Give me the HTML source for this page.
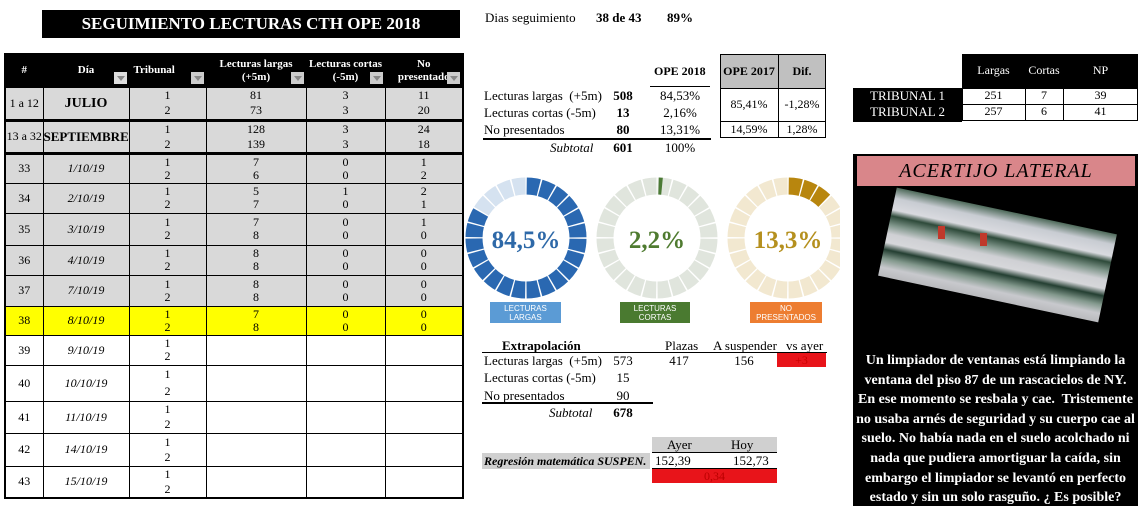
<!DOCTYPE html>
<html><head><meta charset="utf-8">
<style>
body{margin:0;width:1144px;height:506px;background:#fff;position:relative;overflow:hidden;font-family:"Liberation Serif",serif;color:#000}
.a{position:absolute;white-space:nowrap}
.c{text-align:center}
table.m{position:absolute;left:4px;top:53px;width:458px;border-collapse:collapse;table-layout:fixed;font-size:12px;border:2px solid #000}
table.m td{border:1px solid #000;text-align:center;padding:0;line-height:13px;background:#d9d9d9;overflow:hidden}
table.m tr.h td{background:#000;color:#fff;font-weight:bold;font-size:11px;line-height:13px;position:relative}
table.m tr.g td{border-bottom:3px solid #000}
table.m tr.y td{background:#ffff00}
table.m tr.w td{background:#fff}
table.m td.d{font-style:italic}
.dd{position:absolute;right:2px;bottom:3px;width:13px;height:12px;background:#ccc}
.dd:after{content:"";position:absolute;left:3px;top:4px;border-left:4px solid transparent;border-right:4px solid transparent;border-top:5px solid #888}
.lbl{position:absolute;color:#fff;font-family:"Liberation Sans",sans-serif;font-size:8px;line-height:9px;text-align:center;display:flex;align-items:center;justify-content:center}
.f13{font-size:13px}
</style></head><body>

<div class="a c" style="left:42px;top:10px;width:418px;height:28px;background:#000;color:#fff;font-weight:bold;font-size:17px;line-height:28px">SEGUIMIENTO LECTURAS CTH OPE 2018</div>
<div class="a f13" style="left:485px;top:10px">Dias seguimiento</div>
<div class="a f13" style="left:596px;top:10px;font-weight:bold">38 de 43</div>
<div class="a f13" style="left:667px;top:10px;font-weight:bold">89%</div>

<table class="m">
<colgroup><col style="width:38px"><col style="width:86px"><col style="width:77px"><col style="width:100px"><col style="width:79px"><col style="width:78px"></colgroup>
<tr class="h" style="height:33px"><td>#</td><td>Día<span class="dd" style="background:#ddd"></span></td><td style="text-align:left;padding-left:4px">Tribunal<span class="dd"></span></td><td>Lecturas largas<br>(+5m)<span class="dd"></span></td><td>Lecturas cortas<br>(-5m)<span class="dd"></span></td><td>No<br>presentado<span class="dd"></span></td></tr>
<tr class="g" style="height:33px"><td>1 a 12</td><td style="font-weight:bold;font-size:14px">JULIO</td><td style="line-height:15px">1<br>2</td><td style="line-height:15px">81<br>73</td><td style="line-height:15px">3<br>3</td><td style="line-height:15px">11<br>20</td></tr>
<tr class="g" style="height:33px"><td>13 a 32</td><td style="font-weight:bold;font-size:13px">SEPTIEMBRE</td><td style="line-height:15px">1<br>2</td><td style="line-height:15px">128<br>139</td><td style="line-height:15px">3<br>3</td><td style="line-height:15px">24<br>18</td></tr>
<tr style="height:30px"><td>33</td><td class="d">1/10/19</td><td>1<br>2</td><td>7<br>6</td><td>0<br>0</td><td>1<br>2</td></tr>
<tr style="height:30px"><td>34</td><td class="d">2/10/19</td><td>1<br>2</td><td>5<br>7</td><td>1<br>0</td><td>2<br>1</td></tr>
<tr style="height:32px"><td>35</td><td class="d">3/10/19</td><td>1<br>2</td><td>7<br>8</td><td>0<br>0</td><td>1<br>0</td></tr>
<tr style="height:30px"><td>36</td><td class="d">4/10/19</td><td>1<br>2</td><td>8<br>8</td><td>0<br>0</td><td>0<br>0</td></tr>
<tr style="height:31px"><td>37</td><td class="d">7/10/19</td><td>1<br>2</td><td>8<br>8</td><td>0<br>0</td><td>0<br>0</td></tr>
<tr class="y" style="height:29px"><td>38</td><td class="d">8/10/19</td><td>1<br>2</td><td>7<br>8</td><td>0<br>0</td><td>0<br>0</td></tr>
<tr class="w" style="height:30px"><td>39</td><td class="d">9/10/19</td><td>1<br>2</td><td></td><td></td><td></td></tr>
<tr class="w" style="height:36px"><td>40</td><td class="d">10/10/19</td><td style="line-height:17px">1<br>2</td><td></td><td></td><td></td></tr>
<tr class="w" style="height:32px"><td>41</td><td class="d">11/10/19</td><td style="line-height:15px">1<br>2</td><td></td><td></td><td></td></tr>
<tr class="w" style="height:33px"><td>42</td><td class="d">14/10/19</td><td style="line-height:15px">1<br>2</td><td></td><td></td><td></td></tr>
<tr class="w" style="height:32px"><td>43</td><td class="d">15/10/19</td><td style="line-height:15px">1<br>2</td><td></td><td></td><td></td></tr>
</table>

<!-- summary table -->
<div class="a" style="left:654px;top:64px;font-weight:bold;font-size:12px">OPE 2018</div>
<div class="a" style="left:650px;top:86px;width:60px;border-top:1px solid #000"></div>
<div class="a f13" style="left:484px;top:88px">Lecturas largas&nbsp; (+5m)</div>
<div class="a f13" style="left:484px;top:105px">Lecturas cortas (-5m)</div>
<div class="a f13" style="left:484px;top:122px">No presentados</div>
<div class="a f13 c" style="left:608px;top:88px;width:30px;font-weight:bold">508</div>
<div class="a f13 c" style="left:608px;top:105px;width:30px;font-weight:bold">13</div>
<div class="a f13 c" style="left:608px;top:122px;width:30px;font-weight:bold">80</div>
<div class="a f13 c" style="left:650px;top:88px;width:60px">84,53%</div>
<div class="a f13 c" style="left:650px;top:105px;width:60px">2,16%</div>
<div class="a f13 c" style="left:650px;top:122px;width:60px">13,31%</div>
<div class="a" style="left:483px;top:138px;width:228px;border-top:2px solid #000"></div>
<div class="a f13" style="left:550px;top:140px;font-style:italic">Subtotal</div>
<div class="a f13 c" style="left:608px;top:140px;width:30px;font-weight:bold">601</div>
<div class="a f13 c" style="left:650px;top:140px;width:60px">100%</div>

<div class="a" style="left:720px;top:54px;width:106px;height:84px;border:1px solid #000;box-sizing:border-box"></div>
<div class="a" style="left:721px;top:55px;width:104px;height:33px;background:#c0c0c0"></div>
<div class="a" style="left:720px;top:88px;width:106px;border-top:1px solid #000"></div>
<div class="a" style="left:720px;top:121px;width:106px;border-top:1px solid #000"></div>
<div class="a" style="left:778px;top:54px;height:84px;border-left:1px solid #000"></div>
<div class="a c" style="left:720px;top:64px;width:58px;font-weight:bold;font-size:12px">OPE 2017</div>
<div class="a c" style="left:778px;top:64px;width:48px;font-weight:bold;font-size:12px">Dif.</div>
<div class="a c" style="left:720px;top:97px;width:58px;font-size:12px">85,41%</div>
<div class="a c" style="left:778px;top:97px;width:48px;font-size:12px">-1,28%</div>
<div class="a c" style="left:720px;top:122px;width:58px;font-size:12px">14,59%</div>
<div class="a c" style="left:778px;top:122px;width:48px;font-size:12px">1,28%</div>

<!-- donuts -->
<svg class="a" style="left:460px;top:170px" width="380" height="140">
 <g transform="translate(66,68) rotate(-90)">
  <circle r="52" fill="none" stroke="#d5e2f0" stroke-width="17"/>
  <circle r="52" fill="none" stroke="#2a68b1" stroke-width="17" stroke-dasharray="272.3 400"/>
  <circle r="52" fill="none" stroke="#fff" stroke-width="18" stroke-dasharray="1.4 12.21" stroke-dashoffset="0.7"/>
 </g>
 <g transform="translate(197,68) rotate(-90)">
  <circle r="52" fill="none" stroke="#e0e5dd" stroke-width="17"/>
  <circle r="52" fill="none" stroke="#4b7a35" stroke-width="17" stroke-dasharray="0 1.6 3.5 400"/>
  <circle r="52" fill="none" stroke="#fff" stroke-width="18" stroke-dasharray="1.4 12.21" stroke-dashoffset="0.7"/>
 </g>
 <g transform="translate(328,68) rotate(-90)">
  <circle r="52" fill="none" stroke="#f2e8d0" stroke-width="17"/>
  <circle r="52" fill="none" stroke="#b8860e" stroke-width="17" stroke-dasharray="40.8 400"/>
  <circle r="52" fill="none" stroke="#fff" stroke-width="18" stroke-dasharray="1.4 12.21" stroke-dashoffset="0.7"/>
 </g>
 <text x="66" y="78" text-anchor="middle" font-family="Liberation Serif,serif" font-size="25" font-weight="bold" fill="#2e69a8">84,5%</text>
 <text x="197" y="78" text-anchor="middle" font-family="Liberation Serif,serif" font-size="25" font-weight="bold" fill="#4f7b30">2,2%</text>
 <text x="328" y="78" text-anchor="middle" font-family="Liberation Serif,serif" font-size="25" font-weight="bold" fill="#b5901e">13,3%</text>
</svg>
<div class="lbl" style="left:490px;top:302px;width:71px;height:21px;background:#5b9bd5">LECTURAS<br>LARGAS</div>
<div class="lbl" style="left:620px;top:302px;width:70px;height:21px;background:#4a7a30">LECTURAS<br>CORTAS</div>
<div class="lbl" style="left:750px;top:302px;width:72px;height:21px;background:#ed7d31">NO<br>PRESENTADOS</div>

<!-- extrapolacion -->
<div class="a f13" style="left:502px;top:338px;font-weight:bold">Extrapolación</div>
<div class="a f13" style="left:665px;top:338px">Plazas</div>
<div class="a f13" style="left:713px;top:338px">A suspender</div>
<div class="a f13" style="left:786px;top:338px">vs ayer</div>
<div class="a" style="left:482px;top:352px;width:345px;border-top:1px solid #000"></div>
<div class="a" style="left:777px;top:353px;width:49px;height:14px;background:#e8141a;color:#c00;font-size:12px;text-align:center;line-height:14px">+3</div>
<div class="a f13" style="left:484px;top:353px">Lecturas largas&nbsp; (+5m)</div>
<div class="a f13" style="left:484px;top:370px">Lecturas cortas (-5m)</div>
<div class="a f13" style="left:484px;top:388px">No presentados</div>
<div class="a f13 c" style="left:608px;top:353px;width:30px">573</div>
<div class="a f13 c" style="left:608px;top:370px;width:30px">15</div>
<div class="a f13 c" style="left:608px;top:388px;width:30px">90</div>
<div class="a f13 c" style="left:663px;top:353px;width:32px">417</div>
<div class="a f13 c" style="left:728px;top:353px;width:32px">156</div>
<div class="a" style="left:482px;top:402px;width:171px;border-top:2px solid #000"></div>
<div class="a f13" style="left:549px;top:405px;font-style:italic">Subtotal</div>
<div class="a f13 c" style="left:608px;top:405px;width:30px;font-weight:bold">678</div>

<div class="a" style="left:652px;top:437px;width:125px;height:15px;background:#d0d0d0;border-bottom:1px solid #000"></div>
<div class="a f13" style="left:667px;top:437px">Ayer</div>
<div class="a f13" style="left:731px;top:437px">Hoy</div>
<div class="a" style="left:482px;top:453px;width:168px;height:16px;background:#d0d0d0"></div>
<div class="a" style="left:484px;top:454px;font-weight:bold;font-style:italic;font-size:12px">Regresión matemática SUSPEN.</div>
<div class="a f13" style="left:655px;top:453px">152,39</div>
<div class="a f13" style="left:733px;top:453px">152,73</div>
<div class="a" style="left:652px;top:468px;width:125px;border-top:1px solid #000"></div>
<div class="a" style="left:652px;top:469px;width:125px;height:14px;background:#e8141a;color:#b00;font-size:12px;text-align:center;line-height:14px">0,34</div>

<!-- tribunal table -->
<div class="a" style="left:962px;top:54px;width:176px;height:34px;background:#000"></div>
<div class="a" style="left:853px;top:88px;width:109px;height:34px;background:#000"></div>
<div class="a c" style="left:962px;top:63px;width:63px;color:#fff;font-size:12px">Largas</div>
<div class="a c" style="left:1025px;top:63px;width:38px;color:#fff;font-size:12px">Cortas</div>
<div class="a c" style="left:1063px;top:63px;width:75px;color:#fff;font-size:12px">NP</div>
<div class="a c" style="left:853px;top:88px;width:109px;color:#fff;font-size:13px">TRIBUNAL 1</div>
<div class="a c" style="left:853px;top:104px;width:109px;color:#fff;font-size:13px">TRIBUNAL 2</div>
<div class="a" style="left:962px;top:88px;width:176px;height:33px;border:1px solid #000;box-sizing:border-box"></div>
<div class="a" style="left:962px;top:104px;width:176px;border-top:1px solid #000"></div>
<div class="a" style="left:1025px;top:88px;height:33px;border-left:1px solid #000"></div>
<div class="a" style="left:1063px;top:88px;height:33px;border-left:1px solid #000"></div>
<div class="a c" style="left:962px;top:88px;width:63px;font-size:12px">251</div>
<div class="a c" style="left:1025px;top:88px;width:38px;font-size:12px">7</div>
<div class="a c" style="left:1063px;top:88px;width:75px;font-size:12px">39</div>
<div class="a c" style="left:962px;top:104px;width:63px;font-size:12px">257</div>
<div class="a c" style="left:1025px;top:104px;width:38px;font-size:12px">6</div>
<div class="a c" style="left:1063px;top:104px;width:75px;font-size:12px">41</div>

<!-- acertijo -->
<div class="a" style="left:853px;top:154px;width:285px;height:352px;background:#000"></div>
<div class="a c" style="left:857px;top:156px;width:278px;height:30px;background:#d9868a;font-style:italic;font-size:20px;line-height:30px;letter-spacing:1px">ACERTIJO LATERAL</div>
<div class="a" style="left:885px;top:210px;width:225px;height:90px;transform:rotate(12deg);transform-origin:center;overflow:hidden;background:linear-gradient(180deg,#4e6a5a 0%,#c8ccd2 12%,#d9dadf 25%,#2e4a3a 32%,#7f958a 42%,#cfd0d4 52%,#d6d7da 62%,#243f32 70%,#82988c 80%,#c8c9cd 90%,#b9babd 100%)"></div>
<div class="a" style="left:938px;top:226px;width:7px;height:13px;background:#c0392b"></div>
<div class="a" style="left:980px;top:233px;width:7px;height:13px;background:#c0392b"></div>
<div class="a c" style="left:853px;top:351px;width:285px;color:#fff;font-weight:bold;font-size:14px;line-height:19.6px">Un limpiador de ventanas está limpiando la<br>ventana del piso 87 de un rascacielos de NY.<br>En ese momento se resbala y cae.&nbsp; Tristemente<br>no usaba arnés de seguridad y su cuerpo cae al<br>suelo. No había nada en el suelo acolchado ni<br>nada que pudiera amortiguar la caída, sin<br>embargo el limpiador se levantó en perfecto<br>estado y sin un solo rasguño. ¿ Es posible?</div>
</body></html>
